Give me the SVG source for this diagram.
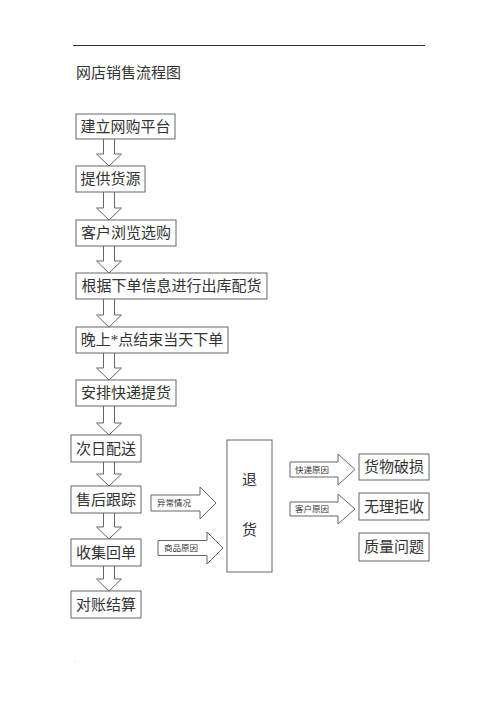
<svg xmlns="http://www.w3.org/2000/svg" width="500" height="708" viewBox="0 0 500 708">
<style>
.bx{fill:#fff;stroke:#666;stroke-width:1}
.ar{fill:#fff;stroke:#666;stroke-width:1;stroke-linejoin:miter}
.t{font-family:"Liberation Serif","Noto Sans CJK SC",serif;font-size:15px;fill:#333;text-anchor:middle}
.s{font-family:"Liberation Serif","Noto Sans CJK SC",serif;font-size:8.5px;fill:#333}
.ti{font-family:"Liberation Serif","Noto Sans CJK SC",serif;font-size:15px;fill:#333}
.dot{font-family:"Liberation Sans",sans-serif;font-size:6px;fill:#999}
</style>
<rect width="500" height="708" fill="#fff"/>
<g id="header">
<line x1="73" y1="45.5" x2="425" y2="45.5" stroke="#333" stroke-width="1"/>
<text class="dot" x="419" y="43">..</text>
<text class="ti" x="76" y="78">网店销售流程图</text>
</g>
<g id="connectors">
<path class="ar" d="M103.5,139 V154 H96.5 L109,166 L121.5,154 H114.5 V139"/>
<path class="ar" d="M103.5,192 V208 H96.5 L109,220 L121.5,208 H114.5 V192"/>
<path class="ar" d="M103.5,246 V261 H96.5 L109,273 L121.5,261 H114.5 V246"/>
<path class="ar" d="M103.5,299 V315 H96.5 L109,327 L121.5,315 H114.5 V299"/>
<path class="ar" d="M103.5,353 V368 H96.5 L109,380 L121.5,368 H114.5 V353"/>
<path class="ar" d="M103.5,406 V423 H96.5 L109,435 L121.5,423 H114.5 V406"/>
<path class="ar" d="M103.5,462 V474 H96.5 L109,486 L121.5,474 H114.5 V462"/>
<path class="ar" d="M103.5,513 V527 H96.5 L109,539 L121.5,527 H114.5 V513"/>
<path class="ar" d="M103.5,566 V579 H96.5 L109,591 L121.5,579 H114.5 V566"/>
<g id="arrow-yichang">
<path class="ar" d="M151,495 H200 V487 L216,503 L200,519 V511 H151 Z"/>
<text class="s" x="157" y="506">异常情况</text>
</g>
<g id="arrow-shangpin">
<path class="ar" d="M158,540.5 H207 V532 L223,548 L207,564 V555.5 H158 Z"/>
<text class="s" x="164" y="551">商品原因</text>
</g>
<g id="arrow-kuaidi">
<path class="ar" d="M290,462 H338 V454 L355,469.5 L338,485 V477 H290 Z"/>
<text class="s" x="295" y="472.5">快递原因</text>
</g>
<g id="arrow-kehu">
<path class="ar" d="M290,502 H338 V494 L355,509 L338,524 V516 H290 Z"/>
<text class="s" x="295" y="512">客户原因</text>
</g>
</g>
<g id="n1"><rect class="bx" x="76" y="114" width="99" height="25"/><text class="t" x="125.5" y="131.5">建立网购平台</text></g>
<g id="n2"><rect class="bx" x="76" y="166" width="69" height="26"/><text class="t" x="110.5" y="184">提供货源</text></g>
<g id="n3"><rect class="bx" x="76" y="220" width="100" height="26"/><text class="t" x="126" y="238">客户浏览选购</text></g>
<g id="n4"><rect class="bx" x="76" y="273" width="191" height="26"/><text class="t" x="171.5" y="291">根据下单信息进行出库配货</text></g>
<g id="n5"><rect class="bx" x="76" y="327" width="152" height="26"/><text class="t" x="152" y="345">晚上*点结束当天下单</text></g>
<g id="n6"><rect class="bx" x="76" y="380" width="100" height="26"/><text class="t" x="126" y="398">安排快递提货</text></g>
<g id="n7"><rect class="bx" x="71" y="435" width="70" height="27"/><text class="t" x="106" y="453.5">次日配送</text></g>
<g id="n8"><rect class="bx" x="71" y="486" width="70" height="27"/><text class="t" x="106" y="504.5">售后跟踪</text></g>
<g id="n9"><rect class="bx" x="71" y="539" width="70" height="27"/><text class="t" x="106" y="557.5">收集回单</text></g>
<g id="n10"><rect class="bx" x="71" y="591" width="70" height="27"/><text class="t" x="106" y="609.5">对账结算</text></g>
<g id="tuihuo"><rect class="bx" x="227" y="440" width="45" height="132"/><text class="t" x="249.5" y="485">退</text><text class="t" x="249.5" y="535">货</text></g>
<g id="r1"><rect class="bx" x="359" y="454" width="70" height="26"/><text class="t" x="394" y="472">货物破损</text></g>
<g id="r2"><rect class="bx" x="359" y="493" width="70" height="27"/><text class="t" x="394" y="511.5">无理拒收</text></g>
<g id="r3"><rect class="bx" x="359" y="533" width="70" height="28"/><text class="t" x="394" y="552">质量问题</text></g>
<g id="footer"><text class="dot" x="74" y="663">: .</text></g>
</svg>
